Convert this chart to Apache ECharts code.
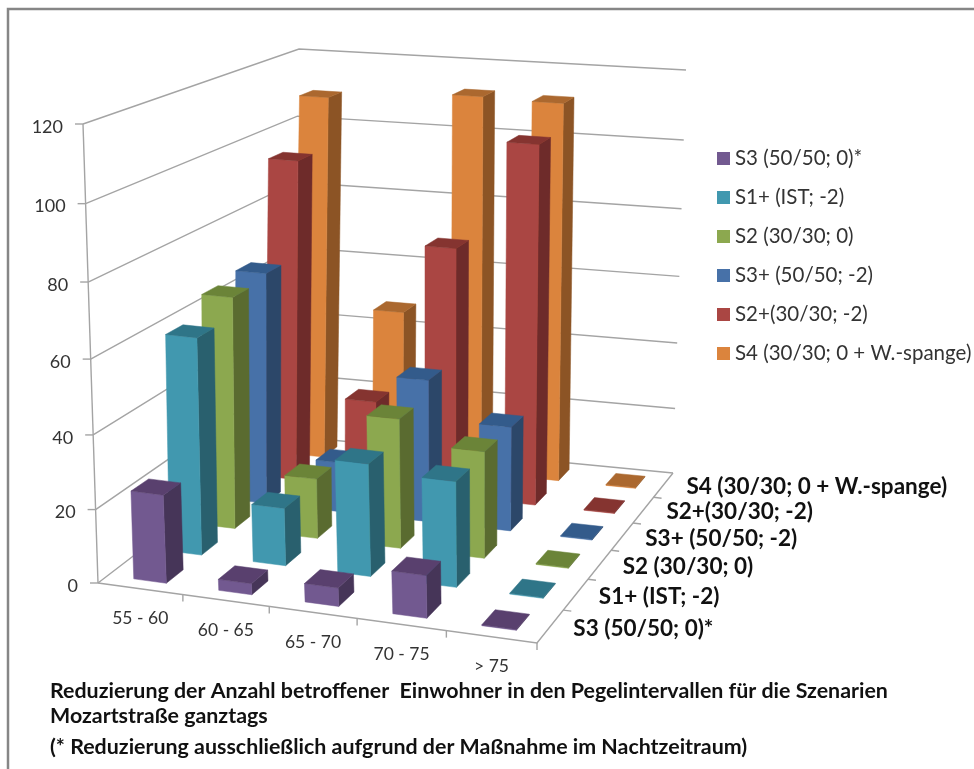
<!DOCTYPE html>
<html><head><meta charset="utf-8">
<style>html,body{margin:0;padding:0;background:#fff}#c{width:974px;height:769px}</style>
<script src="https://cdn.jsdelivr.net/npm/echarts@6/dist/echarts.min.js"></script>
</head><body><div id="c"></div>
<script>
const intervals = ['55 - 60','60 - 65','65 - 70','70 - 75','> 75'];
const scenarios = ['S3 (50/50; 0)*','S1+ (IST; -2)','S2 (30/30; 0)','S3+ (50/50; -2)','S2+(30/30; -2)','S4 (30/30; 0 + W.-spange)'];
const valuesS3  = [24, 3, 5, 11.5, 0];
const valuesS1p = [60, 16, 31, 29, 0];
const valuesS2  = [65.5, 17, 36.5, 30, 0];
const valuesS3p = [67, 14.5, 41, 30, 0];
const valuesS2p = [94.5, 26, 73, 104, 0];
const valuesS4  = [109, 47, 112, 111.5, 0];
const yTicks = [0,20,40,60,80,100,120];
const titleLines = ['Reduzierung der Anzahl betroffener  Einwohner in den Pegelintervallen für die Szenarien','Mozartstraße ganztags','(* Reduzierung ausschließlich aufgrund der Maßnahme im Nachtzeitraum)'];

const seriesValues = [valuesS3,valuesS1p,valuesS2,valuesS3p,valuesS2p,valuesS4];
const faces = [
 ['#725990','#463558','#59406e'],
 ['#4198AF','#29606e','#2f7588'],
 ['#8CA84F','#5a6b30','#6b8438'],
 ['#4771a8','#2c4769','#335b8b'],
 ['#AA4643','#6e2b2a','#853430'],
 ['#DB843D','#8c5425','#ab682f']
];
function quad(p){
  const [x0,y0]=p[0],[x1,y1]=p[1],[x2,y2]=p[2],[x3,y3]=p[3];
  const dx1=x1-x2,dx2=x3-x2,sx=x0-x1+x2-x3,dy1=y1-y2,dy2=y3-y2,sy=y0-y1+y2-y3;
  const den=dx1*dy2-dx2*dy1,g=(sx*dy2-dx2*sy)/den,h=(dx1*sy-sx*dy1)/den;
  const a=x1-x0+g*x1,b=x3-x0+h*x3,d=y1-y0+g*y1,e=y3-y0+h*y3;
  return (u,v)=>{const w=g*u+h*v+1;return [(a*u+b*v+x0)/w,(d*u+e*v+y0)/w];};
}
const floorQ=quad([[98,583],[537,643],[673,473],[290,436]]);
const ceilQ=quad([[83,124],[545,171],[686,70],[299,49]]);
function proj(u0,z,t){
  const u=u0+(0.06+0.05*z)*u0*(1-u0);
  const f=floorQ(u,z),c=ceilQ(u,z),s=t/(1.05-0.05*t);
  return [f[0]+(c[0]-f[0])*s,f[1]+(c[1]-f[1])*s];
}
const GW=900, GH=700, BAR=0.385, DEPTH=0.47;
const nx=intervals.length,nz=scenarios.length;
const gridLine={stroke:'#a4a4a4',lineWidth:1.4,fill:null};
const poly=(pts,fill)=>({type:'polygon',shape:{points:pts},style:{fill,stroke:fill,lineWidth:0.5}});
const line=(pts)=>({type:'polyline',shape:{points:pts},style:gridLine});

function barItem(k){
  return function(params,api){
    const c=api.coord([api.value(0),api.value(1)]);
    const band=api.size([1,0])[0]/GW;
    const uc=c[0]/GW,t=(GH-c[1])/GH;
    const u0=uc-band*BAR/2,u1=uc+band*BAR/2;
    const z0=(k+0.5-DEPTH/2)/nz,z1=(k+0.5+DEPTH/2)/nz;
    const tt=Math.max(t,0.002);
    const fb0=proj(u0,z0,0),fb1=proj(u1,z0,0),bb1=proj(u1,z1,0);
    const ft0=proj(u0,z0,tt),ft1=proj(u1,z0,tt),bt0=proj(u0,z1,tt),bt1=proj(u1,z1,tt);
    return {type:'group',children:[
      poly([fb1,bb1,bt1,ft1],faces[k][1]),
      poly([fb0,fb1,ft1,ft0],faces[k][0]),
      poly([ft0,ft1,bt1,bt0],faces[k][2])
    ]};
  };
}
function wallItem(params,api){
  const c=api.coord([0,api.value(1)]);
  const t=(GH-c[1])/GH;
  const a=proj(0,0,t),b=proj(0,1,t),d=proj(1,1,t);
  return {type:'group',children:[
    line([a,b,d]),
    line([a,[a[0]-8,a[1]]]),
    {type:'text',style:{text:String(api.value(1)),x:a[0]-20,y:a[1]+3,align:'right',verticalAlign:'middle',font:'18px Lato',fill:'#333'}}
  ]};
}
function floorItem(params,api){
  const kids=[line([proj(0,0,0),proj(1,0,0),proj(1,1,0)]),line([proj(0,0,0),proj(0,0,1)])];
  for(let i=1;i<=nx;i++){const p=proj(i/nx,0,0);kids.push(line([p,[p[0],p[1]+7]]));}
  for(let j=1;j<nz;j++){const p=proj(1,j/nz,0);kids.push(line([p,[p[0]+8,p[1]+1]]));}
  return {type:'group',children:kids};
}
function catLabel(params,api){
  const c=api.coord([api.value(0),0]);
  const p=proj(c[0]/GW,0,0);
  return {type:'text',style:{text:intervals[api.value(0)],x:p[0],y:p[1]+30,align:'center',verticalAlign:'middle',font:'17.5px Lato',fill:'#333'}};
}
function depthLabel(params,api){
  const j=api.value(0);
  const p=proj(1,(j+0.5)/nz,0);
  return {type:'text',style:{text:scenarios[j],x:p[0]+23,y:p[1]+2,align:'left',verticalAlign:'middle',font:'bold 22.5px Lato',fill:'#111'}};
}
const common={type:'custom',coordinateSystem:'cartesian2d',silent:true,clip:false,animation:false};
const series=[
  Object.assign({},common,{name:'walls',data:yTicks.map(v=>[0,v]),encode:{x:0,y:1},renderItem:wallItem}),
  Object.assign({},common,{name:'floor',data:[[0,0]],encode:{x:0,y:1},renderItem:floorItem}),
];
for(let k=nz-1;k>=0;k--){
  series.push(Object.assign({},common,{name:scenarios[k],itemStyle:{color:faces[k][0]},
    data:seriesValues[k].map((v,i)=>[i,v]),encode:{x:0,y:1},renderItem:barItem(k)}));
}
series.push(Object.assign({},common,{name:'catLabels',data:intervals.map((n,i)=>[i,0]),encode:{x:0,y:1},renderItem:catLabel}));
series.push(Object.assign({},common,{name:'depthLabels',data:scenarios.map((n,j)=>[j,0]),encode:{y:1},renderItem:depthLabel}));

const chart=echarts.init(document.getElementById('c'),null,{renderer:'canvas'});
chart.setOption({
  animation:false,backgroundColor:'#fff',
  grid:{left:0,top:0,width:GW,height:GH,containLabel:false,outerBoundsMode:'none'},
  xAxis:{type:'category',data:intervals,show:false},
  yAxis:{type:'value',min:0,max:120,interval:20,show:false},
  legend:{data:scenarios,orient:'vertical',left:717,top:148,padding:0,icon:'rect',itemWidth:13,itemHeight:13,itemGap:18,selectedMode:false,
    textStyle:{fontFamily:'Lato',fontSize:20.5,color:'#333',lineHeight:20}},
  title:titleLines.map((t,i)=>({text:t,left:50,top:[681,706,737][i],padding:0,textStyle:{fontFamily:'Lato',fontSize:21.4,fontWeight:'bold',color:'#111'}})),
  graphic:[{type:'rect',silent:true,shape:{x:8,y:9,width:1000,height:800},style:{fill:null,stroke:'#868686',lineWidth:2.5}}],
  series
});
</script></body></html>
